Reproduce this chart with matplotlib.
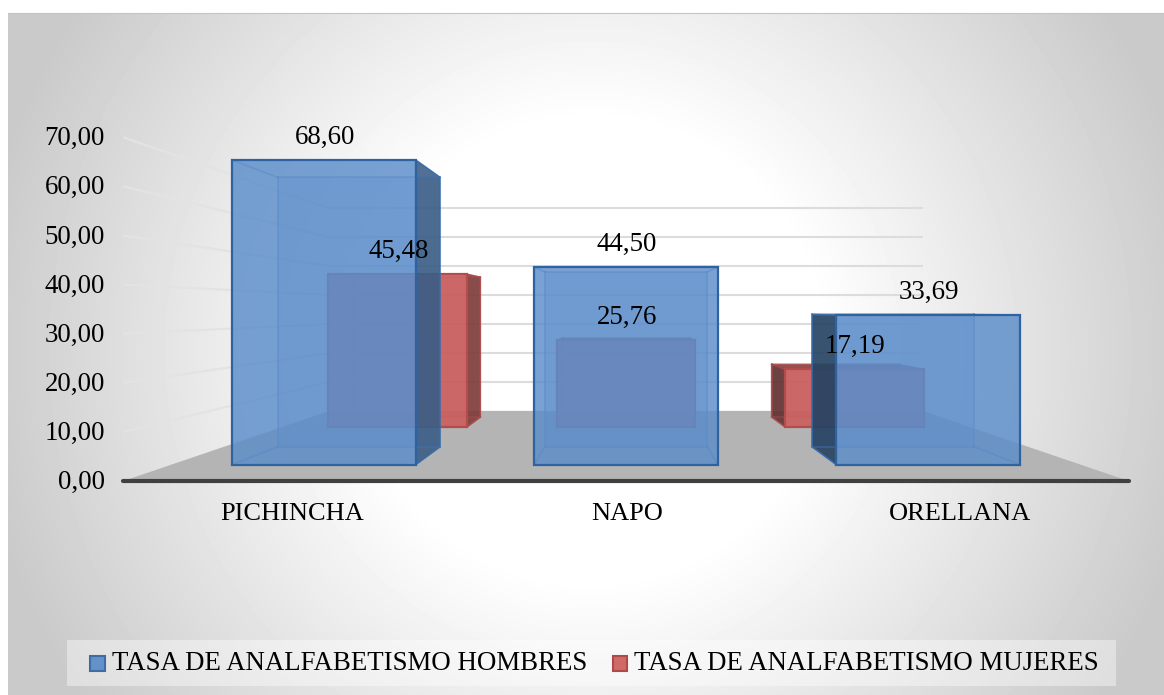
import numpy as np
import matplotlib
matplotlib.use("Agg")
import matplotlib.pyplot as plt
from matplotlib.patches import Polygon, Rectangle

# data
categories = ["PICHINCHA", "NAPO", "ORELLANA"]
hombres = [68.60, 44.50, 33.69]
mujeres = [45.48, 25.76, 17.19]
ticks = [0, 10, 20, 30, 40, 50, 60, 70]
legend_labels = ["TASA DE ANALFABETISMO HOMBRES", "TASA DE ANALFABETISMO MUJERES"]

plt.rcParams["font.family"] = ["Liberation Serif", "DejaVu Serif"]

W, H = 1164, 695
fig = plt.figure(figsize=(W / 100, H / 100), dpi=100)
ax = fig.add_axes([0, 0, 1, 1])

# perspective setup, in pixels of the front plane
VPX, VPY = 626, 310
BASE = 171       # floor, front plane, below the vanishing point
UNIT = 4.91      # pixels per value unit on the front plane
CAT_W = 334
HALF_BAR = 101.5
S_BACK = 0.59


def proj(X, v, s):
    return (VPX + X * s, VPY + (BASE - UNIT * v) * s)


def cat_x(i):
    return (i - 1) * CAT_W


# background: radial grey to white
yy, xx = np.mgrid[0:H, 0:W]
r = np.sqrt((xx - 590.0) ** 2 + (yy - 350.0) ** 2)
grey = np.clip(1 - (r - 230) / 352 * 0.19, 0.79, 1)
ax.imshow(grey[13:, 8:], cmap="gray", vmin=0, vmax=1, extent=(8, W, H, 13),
          aspect="auto", zorder=0, interpolation="bilinear")
ax.plot([8, W], [13, 13], color="#c4c4c4", lw=0.8, zorder=1)

# floor
x_left, x_right = -1.505 * CAT_W, 1.505 * CAT_W
floor = [proj(x_left, 0, 1), proj(x_right, 0, 1), proj(x_right, 0, S_BACK), proj(x_left, 0, S_BACK)]
ax.add_patch(Polygon(floor, closed=True, fc="#b4b4b4", ec="none", zorder=2))

# gridlines on the left wall and the back wall
for t in ticks[1:]:
    wall = [proj(x_left, t, 1), proj(x_left, t, S_BACK)]
    ax.plot(*zip(*wall), color="#e3e3e3", lw=1.6, zorder=2, solid_capstyle="butt")
    back = [proj(x_left, t, S_BACK), proj(x_right, t, S_BACK)]
    ax.plot(*zip(*back), color="#dcdcdc", lw=1.5, zorder=2, solid_capstyle="butt")

ax.plot(*zip(proj(x_left, 0, 1), proj(x_right, 0, 1)), color="#404040", lw=3, zorder=2.5,
        solid_capstyle="round")


def box(i, v, s1, s2, front, back_a, front_a, edge, inner, side_l, side_r, top_c, z):
    X0, X1 = cat_x(i) - HALF_BAR, cat_x(i) + HALF_BAR
    f = [proj(X0, 0, s1), proj(X1, 0, s1), proj(X1, v, s1), proj(X0, v, s1)]
    b = [proj(X0, 0, s2), proj(X1, 0, s2), proj(X1, v, s2), proj(X0, v, s2)]
    ax.add_patch(Polygon(b, closed=True, fc=front, alpha=back_a, ec="none", zorder=z))
    # faces seen from outside are darker
    if X1 < 0:
        ax.add_patch(Polygon([f[1], b[1], b[2], f[2]], closed=True, fc=side_r, ec=edge, lw=1,
                             alpha=0.88, zorder=z + 0.1))
    if X0 > 0:
        ax.add_patch(Polygon([f[0], b[0], b[3], f[3]], closed=True, fc=side_l, ec=edge, lw=1,
                             alpha=0.88, zorder=z + 0.1))
    if BASE - UNIT * v > 0:
        ax.add_patch(Polygon([f[3], f[2], b[2], b[3]], closed=True, fc=top_c, ec="none",
                             alpha=0.85, zorder=z + 0.1))
    for k in range(4):
        ax.plot(*zip(b[k], b[(k + 1) % 4]), color=inner, lw=1.2, alpha=0.5, zorder=z + 0.2)
        ax.plot(*zip(f[k], b[k]), color=inner, lw=1.2, alpha=0.5, zorder=z + 0.2)
    ax.add_patch(Polygon(f, closed=True, fc=front, alpha=front_a, ec="none", zorder=z + 0.3))
    ax.add_patch(Polygon(f, closed=True, fc="none", ec=edge, lw=1.6, zorder=z + 0.4))
    return ((f[0][0] + f[1][0]) / 2, f[2][1])


S_RED = (0.684, 0.626)
S_BLUE = (0.905, 0.80)
labels = []
for i, v in enumerate(mujeres):
    pos = box(i, v, S_RED[0], S_RED[1], "#c9605f", 0.35, 0.92, "#b34c4b", "#a84a4a",
              "#5e3030", "#7d3a3a", "#8a3a3a", 3)
    labels.append((pos, v))
for i, v in enumerate(hombres):
    pos = box(i, v, S_BLUE[0], S_BLUE[1], "#5b8dca", 0.3, 0.82, "#2f62a0", "#3f72b4",
              "#22405f", "#3a5c84", "#3a5c84", 5)
    labels.append((pos, v))

for (px, py), v in labels:
    ax.text(px + 1, py - 23, f"{v:.2f}".replace(".", ","), ha="center", va="center",
            fontsize=19.4, color="black", zorder=10)

# axis labels
for t in ticks:
    ax.text(105, proj(x_left, t, 1)[1] + 1.5, f"{t:.2f}".replace(".", ","), ha="right", va="center",
            fontsize=19.4, color="black", zorder=10)
for i, c in enumerate(categories):
    ax.text(VPX + cat_x(i) + (1 if i == 1 else 0), 514.5, c, ha="center", va="center", fontsize=19,
            color="black", zorder=10)

# legend
ax.add_patch(Rectangle((67, 640), 1049, 46, fc="white", alpha=0.4, ec="none", zorder=9))
ax.add_patch(Rectangle((90, 656), 15, 15, fc="#6491c8", ec="#3f6ca6", lw=1.5, zorder=10))
ax.add_patch(Rectangle((613, 656), 14, 15, fc="#cf6a69", ec="#b04a49", lw=1.5, zorder=10))
ax.text(112, 664, legend_labels[0], ha="left", va="center", fontsize=19.4, color="black", zorder=10)
ax.text(634, 664, legend_labels[1], ha="left", va="center", fontsize=19.4, color="black", zorder=10)

ax.set_xlim(0, W)
ax.set_ylim(H, 0)
ax.axis("off")
fig.savefig("out.png", dpi=100, facecolor="white")
